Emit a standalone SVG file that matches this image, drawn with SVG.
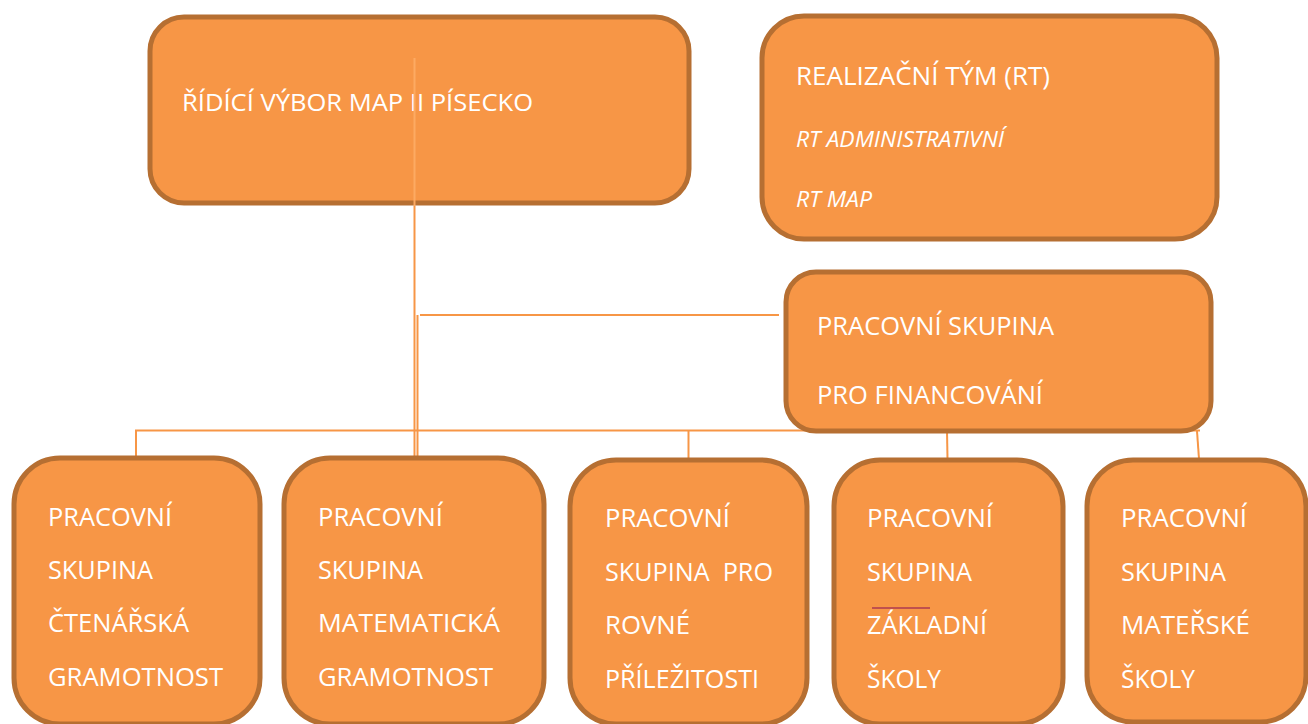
<svg xmlns="http://www.w3.org/2000/svg" width="1308" height="724" viewBox="0 0 1308 724">
<style>
.box{fill:#F79646;stroke:#B66F32;stroke-width:5}
.t{fill:#FFFFFF;font-family:"Open Sans","Liberation Sans",sans-serif;font-size:25px}
.s{fill:#FFFFFF;font-family:"Open Sans","Liberation Sans",sans-serif;font-size:21px;font-style:italic}
.c{stroke:#F79646;stroke-width:2;fill:none}
</style>
<rect width="1308" height="724" fill="#FFFFFF"/>
<g id="ridici-vybor">
<rect class="box" x="150" y="17" width="539" height="186" rx="34"/>
<text class="t" x="182" y="111" textLength="351" lengthAdjust="spacingAndGlyphs" style="font-size:24px">ŘÍDÍCÍ VÝBOR MAP II PÍSECKO</text>
</g>
<g id="connectors">
<line class="c" x1="414.5" y1="58" x2="414.5" y2="206" style="stroke:#FDAA62;stroke-width:2"/>
<line class="c" x1="414.5" y1="206" x2="414.5" y2="456"/>
<line class="c" x1="417.5" y1="315" x2="417.5" y2="456"/>
<line class="c" x1="420" y1="315" x2="779" y2="315"/>
<line class="c" x1="135" y1="430.5" x2="1200" y2="430.5"/>
<line class="c" x1="136" y1="430.5" x2="136" y2="457"/>
<line class="c" x1="688.5" y1="430.5" x2="688.5" y2="459"/>
<line class="c" x1="947" y1="431" x2="947.5" y2="459"/>
<line class="c" x1="1197" y1="431" x2="1199" y2="459"/>
</g>
<g id="realizacni-tym">
<rect class="box" x="762" y="16" width="455" height="223" rx="42"/>
<text class="t" x="796" y="85" textLength="254" lengthAdjust="spacingAndGlyphs">REALIZAČNÍ TÝM (RT)</text>
<text class="s" x="796" y="147" textLength="208" lengthAdjust="spacingAndGlyphs">RT ADMINISTRATIVNÍ</text>
<text class="s" x="796" y="207" textLength="76" lengthAdjust="spacingAndGlyphs">RT MAP</text>
</g>
<g id="ps-financovani">
<rect class="box" x="786" y="272" width="425" height="159" rx="30"/>
<text class="t" x="817" y="335" textLength="237" lengthAdjust="spacingAndGlyphs">PRACOVNÍ SKUPINA</text>
<text class="t" x="817" y="404" textLength="226" lengthAdjust="spacingAndGlyphs">PRO FINANCOVÁNÍ</text>
</g>
<g id="ps-ctenarska">
<rect class="box" x="14" y="458" width="246" height="266" rx="46"/>
<text class="t" x="48" y="526" textLength="124" lengthAdjust="spacingAndGlyphs">PRACOVNÍ</text>
<text class="t" x="48" y="579" textLength="105" lengthAdjust="spacingAndGlyphs">SKUPINA</text>
<text class="t" x="48" y="632" textLength="141" lengthAdjust="spacingAndGlyphs">ČTENÁŘSKÁ</text>
<text class="t" x="48" y="686" textLength="175" lengthAdjust="spacingAndGlyphs">GRAMOTNOST</text>
</g>
<g id="ps-matematicka">
<rect class="box" x="284" y="458" width="260" height="266" rx="46"/>
<text class="t" x="318" y="526" textLength="125" lengthAdjust="spacingAndGlyphs">PRACOVNÍ</text>
<text class="t" x="318" y="579" textLength="105" lengthAdjust="spacingAndGlyphs">SKUPINA</text>
<text class="t" x="318" y="632" textLength="182" lengthAdjust="spacingAndGlyphs">MATEMATICKÁ</text>
<text class="t" x="318" y="686" textLength="175" lengthAdjust="spacingAndGlyphs">GRAMOTNOST</text>
</g>
<g id="ps-rovne">
<rect class="box" x="570" y="460" width="237" height="264" rx="46"/>
<text class="t" x="605" y="527" textLength="125" lengthAdjust="spacingAndGlyphs">PRACOVNÍ</text>
<text class="t" x="605" y="581" textLength="168" lengthAdjust="spacingAndGlyphs" xml:space="preserve">SKUPINA  PRO</text>
<text class="t" x="605" y="634" textLength="85" lengthAdjust="spacingAndGlyphs">ROVNÉ</text>
<text class="t" x="605" y="688" textLength="154" lengthAdjust="spacingAndGlyphs">PŘÍLEŽITOSTI</text>
</g>
<g id="ps-zakladni">
<rect class="box" x="834" y="460" width="229" height="264" rx="46"/>
<text class="t" x="867" y="527" textLength="126" lengthAdjust="spacingAndGlyphs">PRACOVNÍ</text>
<text class="t" x="867" y="581" textLength="105" lengthAdjust="spacingAndGlyphs">SKUPINA</text>
<line x1="872" y1="608" x2="930" y2="608" stroke="#C0504D" stroke-width="2"/>
<text class="t" x="867" y="634" textLength="120" lengthAdjust="spacingAndGlyphs">ZÁKLADNÍ</text>
<text class="t" x="867" y="688" textLength="74" lengthAdjust="spacingAndGlyphs">ŠKOLY</text>
</g>
<g id="ps-materske">
<rect class="box" x="1087" y="460" width="219" height="262" rx="46"/>
<text class="t" x="1121" y="527" textLength="126" lengthAdjust="spacingAndGlyphs">PRACOVNÍ</text>
<text class="t" x="1121" y="581" textLength="105" lengthAdjust="spacingAndGlyphs">SKUPINA</text>
<text class="t" x="1121" y="634" textLength="129" lengthAdjust="spacingAndGlyphs">MATEŘSKÉ</text>
<text class="t" x="1121" y="688" textLength="74" lengthAdjust="spacingAndGlyphs">ŠKOLY</text>
</g>
</svg>
